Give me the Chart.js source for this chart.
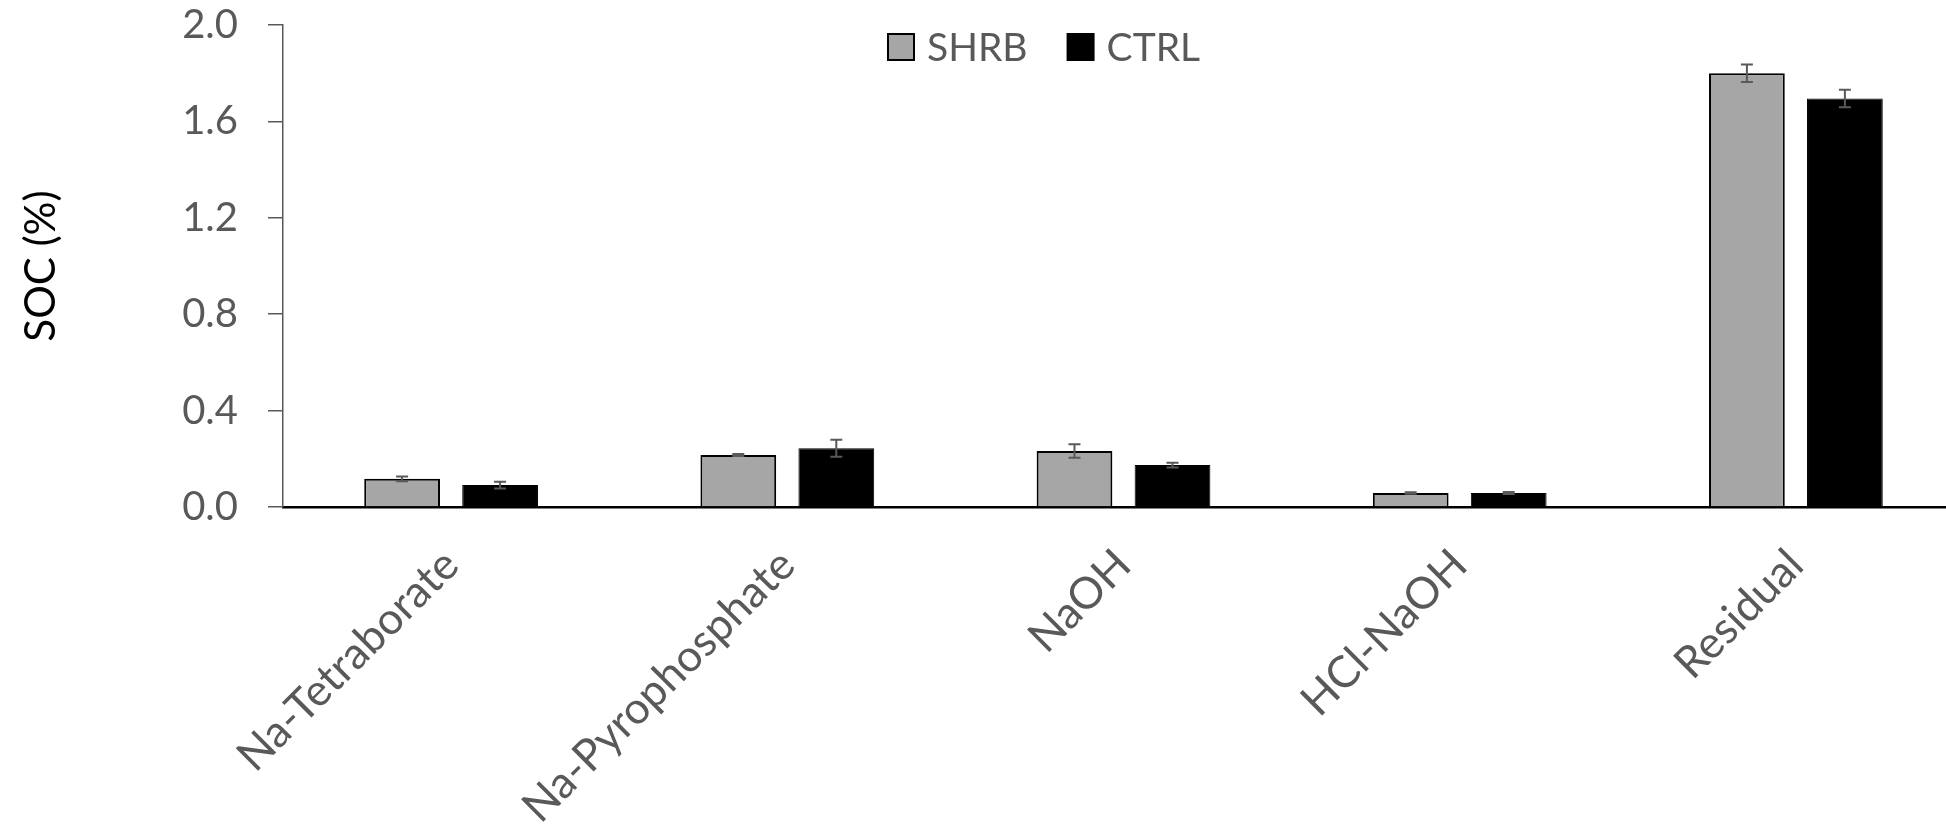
<!DOCTYPE html>
<html>
<head>
<meta charset="utf-8">
<script src="https://cdn.jsdelivr.net/npm/chart.js@4.4.0/dist/chart.umd.min.js"></script>
<style>
  html, body { margin: 0; padding: 0; overflow: hidden; background: #fff; }
  #wrap { width: 1966px; height: 827px; position: relative; }
</style>
</head>
<body>
<div id="wrap"><canvas id="chart_soc"></canvas></div>
<script>
const categories = ["Na-Tetraborate", "Na-Pyrophosphate", "NaOH", "HCl-NaOH", "Residual"];
const shrbValues = [0.117, 0.216, 0.232, 0.058, 1.80];
const shrbErrors = [0.010, 0.004, 0.028, 0.003, 0.036];
const ctrlValues = [0.091, 0.244, 0.174, 0.058, 1.695];
const ctrlErrors = [0.014, 0.035, 0.010, 0.004, 0.036];
const yTicks = [0, 0.4, 0.8, 1.2, 1.6, 2.0];

const FONT = "Lato";
const GREY_TEXT = "#595959";

// error bars drawn on top of each bar
const errorBars = {
  id: "errorBars",
  afterDatasetsDraw(chart) {
    const ctx = chart.ctx;
    const y = chart.scales.y;
    chart.data.datasets.forEach((ds, i) => {
      chart.getDatasetMeta(i).data.forEach((bar, j) => {
        const v = ds.data[j], e = ds.errors[j];
        const top = y.getPixelForValue(v + e);
        const bot = y.getPixelForValue(v - e);
        ctx.save();
        ctx.strokeStyle = "#595959";
        ctx.lineWidth = 2;
        ctx.beginPath();
        ctx.moveTo(bar.x, top); ctx.lineTo(bar.x, bot);
        ctx.moveTo(bar.x - 6, top); ctx.lineTo(bar.x + 6, top);
        ctx.moveTo(bar.x - 6, bot); ctx.lineTo(bar.x + 6, bot);
        ctx.stroke();
        ctx.restore();
      });
    });
  }
};

// legend sits inside the plot area, like the excel original
const legendInside = {
  id: "legendInside",
  afterDraw(chart) {
    const ctx = chart.ctx;
    let x = 888;
    const cy = 47;
    ctx.save();
    ctx.font = "39px " + FONT;
    ctx.textBaseline = "middle";
    ctx.textAlign = "left";
    chart.data.datasets.forEach((ds) => {
      ctx.fillStyle = ds.backgroundColor;
      ctx.fillRect(x, cy - 13, 26, 26);
      ctx.lineWidth = 2;
      ctx.strokeStyle = "#000";
      ctx.strokeRect(x, cy - 13, 26, 26);
      ctx.fillStyle = GREY_TEXT;
      ctx.fillText(ds.label, x + 39, cy + 1);
      x += 39 + ctx.measureText(ds.label).width + 40;
    });
    ctx.restore();
  }
};

var ctxSoc = document.getElementById("chart_soc").getContext("2d");
var socChart = new Chart(ctxSoc, {
  type: "bar",
  data: {
    labels: categories,
    datasets: [
      {
        label: "SHRB",
        data: shrbValues,
        errors: shrbErrors,
        backgroundColor: "#a6a6a6",
        borderColor: "#000",
        borderWidth: 2,
        categoryPercentage: 0.583,
        barPercentage: 0.773,
      },
      {
        label: "CTRL",
        data: ctrlValues,
        errors: ctrlErrors,
        backgroundColor: "#000",
        borderColor: "#000",
        borderWidth: 1,
        categoryPercentage: 0.583,
        barPercentage: 0.773,
      },
    ],
  },
  options: {
    animation: false,
    responsive: true,
    maintainAspectRatio: false,
    layout: {
      padding: { top: 25, left: 0, right: 2, bottom: 0 },
    },
    plugins: {
      legend: { display: false },
      tooltip: { enabled: false },
    },
    scales: {
      x: {
        z: 1,
        grid: { display: false, drawTicks: false },
        border: { display: true, color: "#000", width: 2.5 },
        ticks: {
          autoSkip: false,
          maxRotation: 45,
          minRotation: 45,
          padding: 32,
          color: GREY_TEXT,
          font: { family: FONT, size: 44 },
        },
        afterFit: function (s) { s.height = 320; },
      },
      y: {
        min: 0,
        max: 2,
        afterBuildTicks: function (s) {
          s.ticks = yTicks.map((v) => ({ value: v }));
        },
        grid: {
          display: true,
          drawOnChartArea: false,
          drawTicks: true,
          tickLength: 15,
          color: "#595959",
          lineWidth: 1.5,
        },
        border: { display: true, color: "#595959", width: 1.5 },
        ticks: {
          padding: 30,
          color: GREY_TEXT,
          font: { family: FONT, size: 40 },
          callback: function (v) { return Number(v).toFixed(1); },
        },
        title: {
          display: true,
          text: "SOC (%)",
          color: "#000",
          padding: { top: 16, bottom: 0 },
          font: { family: FONT, size: 42 },
        },
        afterFit: function (s) {
          s.width = 283;
          // tick padding should not push the plot area down
          s.paddingTop = 0;
          s.paddingBottom = 0;
        },
      },
    },
  },
  plugins: [errorBars, legendInside],
});
</script>
</body>
</html>
